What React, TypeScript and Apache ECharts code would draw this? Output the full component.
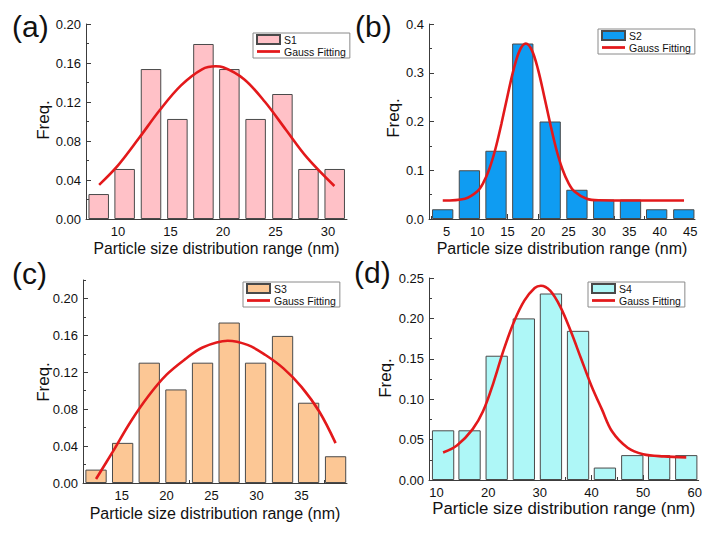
import React, { useEffect, useRef } from "react";
import * as echarts from "echarts";

// ---------- data ----------
// (a) S1
const aSize = [8.16, 10.63, 13.14, 15.65, 18.13, 20.6, 23.1, 25.65, 28.13, 30.63];
const aFreq = [0.0256, 0.0513, 0.1538, 0.1026, 0.1795, 0.1538, 0.1026, 0.1282, 0.0513, 0.0513];
const aFitX = [8.2, 10, 12, 14, 16, 18, 19.3, 20, 22, 24, 26, 28, 30.6];
const aFitY = [0.035, 0.055, 0.083, 0.112, 0.137, 0.1535, 0.1566, 0.1557, 0.1434, 0.12, 0.0913, 0.0629, 0.0338];
const aXTicks = [10, 15, 20, 25, 30];
const aYTicks = [0, 0.04, 0.08, 0.12, 0.16, 0.2];

// (b) S2
const bSize = [4.34, 8.73, 13.1, 17.5, 22.0, 26.4, 30.8, 35.2, 39.5, 43.96];
const bFreq = [0.02, 0.1, 0.14, 0.36, 0.2, 0.06, 0.04, 0.04, 0.02, 0.02];
const bFitX = [4.35, 8, 10, 11, 12, 13, 14, 15, 16, 17, 18, 19, 20, 21, 22, 23, 24, 25, 26, 28, 30, 35, 40, 44];
const bFitY = [0.038, 0.0417, 0.0564, 0.074, 0.1025, 0.1436, 0.196, 0.253, 0.307, 0.346, 0.36, 0.346, 0.307, 0.253, 0.196, 0.1436, 0.1025, 0.074, 0.0564, 0.0417, 0.0385, 0.038, 0.038, 0.038];
const bXTicks = [5, 10, 15, 20, 25, 30, 35, 40, 45];
const bYTicks = [0, 0.1, 0.2, 0.3, 0.4];

// (c) S3
const cSize = [12.15, 15.11, 18.07, 21.04, 24.0, 26.96, 29.9, 32.9, 35.8, 38.8];
const cFreq = [0.0145, 0.0435, 0.1304, 0.1014, 0.1304, 0.1739, 0.1304, 0.1594, 0.087, 0.029];
const cFitX = [12.15, 14, 16, 18, 20, 22, 24, 26.8, 29, 31, 33, 35, 37, 38.8];
const cFitY = [0.0043, 0.0337, 0.0664, 0.0945, 0.1174, 0.1337, 0.1469, 0.1542, 0.1497, 0.1387, 0.1242, 0.1042, 0.0772, 0.0432];
const cXTicks = [15, 20, 25, 30, 35];
const cYTicks = [0, 0.04, 0.08, 0.12, 0.16, 0.2];

// (d) S4
const dSize = [11.27, 16.39, 21.65, 26.9, 32.15, 37.4, 42.6, 47.9, 53.1, 58.35];
const dFreq = [0.0615, 0.0615, 0.1538, 0.2, 0.2308, 0.1846, 0.0154, 0.0308, 0.0308, 0.0308];
const dFitX = [11.27, 14, 17, 19, 21, 23, 25, 27, 29, 30.2, 32, 34, 36, 38, 40, 42, 44, 47, 50, 54, 58.35];
const dFitY = [0.034, 0.043, 0.063, 0.085, 0.12, 0.161, 0.196, 0.222, 0.2377, 0.2405, 0.2343, 0.214, 0.184, 0.15, 0.1164, 0.0877, 0.06, 0.04, 0.032, 0.0292, 0.028];
const dXTicks = [10, 20, 30, 40, 50, 60];
const dYTicks = [0, 0.05, 0.1, 0.15, 0.2, 0.25];

const FIT_NAME = "Gauss Fitting";
const FONT = '"Liberation Sans", Arial, Helvetica, sans-serif';
const LINE_ICON = "path://M0,0H25V3H0Z";

type Panel = {
  tag: string;
  name: string;
  color: string;
  sizes: number[];
  freq: number[];
  fitX: number[];
  fitY: number[];
  xTicks: number[];
  yTicks: number[];
  xMin: number;
  xMax: number;
  yMax: number;
  digits: number;
  grid: { left: number; top: number; width: number; height: number };
  barWidth: number;
  legendPos: { left: number; top: number };
  tagPos: { x: number; y: number };
  freqPos: { x: number; y: number };
  nameGap: number;
  nameSize: number;
};

const panels: Panel[] = [
  {
    tag: "(a)", name: "S1", color: "#ffc1c7", sizes: aSize, freq: aFreq, fitX: aFitX, fitY: aFitY,
    xTicks: aXTicks, yTicks: aYTicks, xMin: 6.95, xMax: 31.8, yMax: 0.2, digits: 2,
    grid: { left: 86, top: 24, width: 261, height: 195 }, barWidth: 20.5,
    legendPos: { left: 253, top: 33 }, tagPos: { x: 12, y: 26 }, freqPos: { x: 43, y: 120 },
    nameGap: 21, nameSize: 15.7,
  },
  {
    tag: "(b)", name: "S2", color: "#0f9cf2", sizes: bSize, freq: bFreq, fitX: bFitX, fitY: bFitY,
    xTicks: bXTicks, yTicks: bYTicks, xMin: 2.09, xMax: 45.8, yMax: 0.4, digits: 1,
    grid: { left: 429, top: 24, width: 266, height: 195 }, barWidth: 21.3,
    legendPos: { left: 598, top: 29 }, tagPos: { x: 355, y: 26 }, freqPos: { x: 393, y: 118 },
    nameGap: 21, nameSize: 16,
  },
  {
    tag: "(c)", name: "S3", color: "#fcc795", sizes: cSize, freq: cFreq, fitX: cFitX, fitY: cFitY,
    xTicks: cXTicks, yTicks: cYTicks, xMin: 10.7, xMax: 40.07, yMax: 0.22, digits: 2,
    grid: { left: 83, top: 280, width: 264, height: 203 }, barWidth: 21.3,
    legendPos: { left: 243, top: 282 }, tagPos: { x: 12, y: 273 }, freqPos: { x: 43, y: 382 },
    nameGap: 22, nameSize: 16,
  },
  {
    tag: "(d)", name: "S4", color: "#aef7f7", sizes: dSize, freq: dFreq, fitX: dFitX, fitY: dFitY,
    xTicks: dXTicks, yTicks: dYTicks, xMin: 8.54, xMax: 60.76, yMax: 0.25, digits: 2,
    grid: { left: 429, top: 278, width: 275, height: 202 }, barWidth: 22.3,
    legendPos: { left: 588, top: 282 }, tagPos: { x: 354, y: 272 }, freqPos: { x: 385, y: 378 },
    nameGap: 18, nameSize: 16.8,
  },
];

function midpoints(t: number[], lo: number, hi: number): number[] {
  const step = t[1] - t[0];
  const out: number[] = [];
  for (let v = t[0] - step / 2; v <= hi + 1e-9; v += step) {
    if (v >= lo - 1e-9) out.push(+v.toFixed(6));
  }
  return out;
}

function buildOption() {
  const grid: any[] = [];
  const xAxis: any[] = [];
  const yAxis: any[] = [];
  const series: any[] = [];
  const legend: any[] = [];
  const graphic: any[] = [];
  const axisColor = "#3c3c3c";

  panels.forEach((p, i) => {
    grid.push({ ...p.grid, containLabel: false });
    const xi = xAxis.length;
    xAxis.push({
      type: "value", gridIndex: i, position: "bottom", min: p.xMin, max: p.xMax,
      axisLine: { show: true, onZero: false, lineStyle: { color: axisColor, width: 1 } },
      axisTick: { show: true, inside: true, length: 5, customValues: p.xTicks, lineStyle: { color: axisColor } },
      axisLabel: { show: true, customValues: p.xTicks, fontSize: 13, color: "#111", fontFamily: FONT, margin: 6 },
      splitLine: { show: false },
      name: "Particle size distribution range (nm)", nameLocation: "middle", nameGap: p.nameGap,
      nameTextStyle: { fontSize: p.nameSize, color: "#111", fontFamily: FONT },
    });
    xAxis.push({
      type: "value", gridIndex: i, position: "bottom", min: p.xMin, max: p.xMax,
      axisLine: { show: false }, axisLabel: { show: false }, splitLine: { show: false },
      axisTick: { show: true, inside: true, length: 3, customValues: midpoints(p.xTicks, p.xMin, p.xMax), lineStyle: { color: axisColor } },
    });
    const yi = yAxis.length;
    yAxis.push({
      type: "value", gridIndex: i, position: "left", min: 0, max: p.yMax,
      axisLine: { show: true, onZero: false, lineStyle: { color: axisColor, width: 1 } },
      axisTick: { show: true, inside: true, length: 5, customValues: p.yTicks, lineStyle: { color: axisColor } },
      axisLabel: {
        show: true, customValues: p.yTicks, fontSize: 13, color: "#111", fontFamily: FONT, margin: 5,
        formatter: (v: number) => v.toFixed(p.digits),
      },
      splitLine: { show: false },
    });
    yAxis.push({
      type: "value", gridIndex: i, position: "left", min: 0, max: p.yMax,
      axisLine: { show: false }, axisLabel: { show: false }, splitLine: { show: false },
      axisTick: { show: true, inside: true, length: 3, customValues: midpoints(p.yTicks, 0, p.yMax), lineStyle: { color: axisColor } },
    });

    series.push({
      type: "bar", name: p.name, xAxisIndex: xi, yAxisIndex: yi,
      data: p.sizes.map((s, k) => [s, p.freq[k]]),
      barWidth: p.barWidth,
      itemStyle: { color: p.color, borderColor: "#4a4a4a", borderWidth: 1 },
      z: 2,
    });
    series.push({
      type: "line", name: FIT_NAME, xAxisIndex: xi, yAxisIndex: yi,
      data: p.fitX.map((x, k) => [x, p.fitY[k]]),
      smooth: 0.35, symbol: "none", showSymbol: false,
      lineStyle: { color: "#e3191b", width: 2.6 }, itemStyle: { color: "#e3191b" },
      z: 3,
    });

    legend.push({
      left: p.legendPos.left, top: p.legendPos.top, orient: "vertical",
      data: [
        { name: p.name, icon: "rect" },
        { name: FIT_NAME, icon: LINE_ICON, itemStyle: { color: "#e3191b", borderWidth: 0 } },
      ],
      selectedMode: false,
      backgroundColor: "#fff", borderColor: "#8a8a8a", borderWidth: 1,
      padding: [1, 4, 1, 3], itemGap: 1, itemWidth: 23, itemHeight: 9,
      textStyle: { fontSize: 10.5, color: "#111", fontFamily: FONT, padding: [0, 0, 0, -1] },
    });

    graphic.push({
      type: "text", x: p.tagPos.x, y: p.tagPos.y,
      style: { text: p.tag, font: `30px ${FONT}`, fill: "#111", align: "left", verticalAlign: "middle" },
    });
    graphic.push({
      type: "text", x: p.freqPos.x, y: p.freqPos.y, rotation: Math.PI / 2,
      style: { text: "Freq.", font: `17px ${FONT}`, fill: "#111", align: "center", verticalAlign: "middle" },
    });
  });

  return {
    animation: false,
    backgroundColor: "#ffffff",
    textStyle: { fontFamily: FONT },
    grid, xAxis, yAxis, series, legend, graphic,
  };
}

export default function App() {
  const ref = useRef<HTMLDivElement>(null);
  useEffect(() => {
    if (!ref.current) return;
    const chart = echarts.init(ref.current, undefined, { renderer: "svg" });
    chart.setOption(buildOption() as any);
    return () => chart.dispose();
  }, []);
  return (
    <div
      ref={ref}
      style={{ position: "absolute", left: 0, top: 0, width: 705, height: 533, background: "#fff" }}
    />
  );
}
